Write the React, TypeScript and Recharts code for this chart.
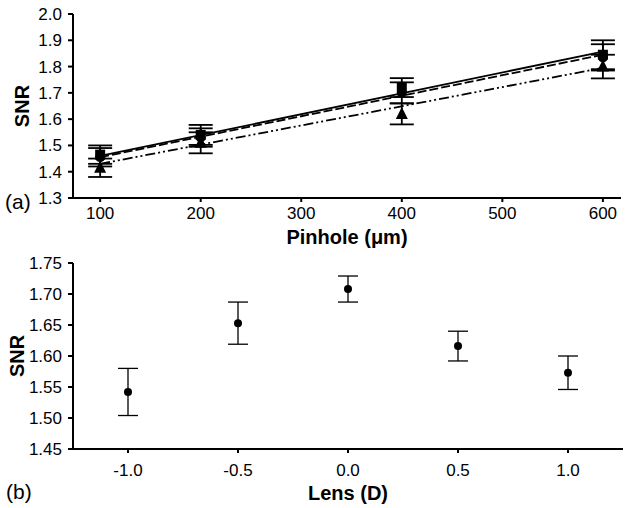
import {
  ComposedChart,
  Scatter,
  Line,
  XAxis,
  YAxis,
  ErrorBar,
} from 'recharts';

// Panel (a): SNR vs pinhole size, three series with linear fits
const pinholes = [100, 200, 400, 600];
const squareSnr = [1.465, 1.54, 1.72, 1.845];
const squareErr = [0.035, 0.038, 0.036, 0.055];
const circleSnr = [1.455, 1.53, 1.7, 1.835];
const circleErr = [0.035, 0.035, 0.04, 0.05];
const triangleSnr = [1.415, 1.51, 1.62, 1.8];
const triangleErr = [0.035, 0.04, 0.04, 0.045];

const fitX = [100, 600];
const fitSolid = [1.46, 1.857];
const fitDashed = [1.455, 1.845];
const fitDashDot = [1.43, 1.795];

const pinholeTicks = [100, 200, 300, 400, 500, 600];
const snrTicksA = [1.3, 1.4, 1.5, 1.6, 1.7, 1.8, 1.9, 2.0];

// Panel (b): SNR vs lens
const lensValues = [-1.0, -0.5, 0.0, 0.5, 1.0];
const lensSnr = [1.542, 1.653, 1.708, 1.616, 1.573];
const lensErr = [0.038, 0.034, 0.021, 0.024, 0.027];

const lensTicks = [-1.0, -0.5, 0.0, 0.5, 1.0];
const snrTicksB = [1.45, 1.5, 1.55, 1.6, 1.65, 1.7, 1.75];

const FONT = '"Liberation Sans", Arial, Helvetica, sans-serif';

const toPoints = (xs: number[], ys: number[], errs?: number[]) =>
  xs.map((x, i) => ({ x, y: ys[i], err: errs ? errs[i] : 0 }));

const squareData = toPoints(pinholes, squareSnr, squareErr);
const circleData = toPoints(pinholes, circleSnr, circleErr);
const triangleData = toPoints(pinholes, triangleSnr, triangleErr);
const solidFit = toPoints(fitX, fitSolid);
const dashedFit = toPoints(fitX, fitDashed);
const dashDotFit = toPoints(fitX, fitDashDot);
const lensData = toPoints(lensValues, lensSnr, lensErr);

const SquareMark = (p: any) => (
  <rect x={p.cx - 5} y={p.cy - 5} width={10} height={10} fill="#000" />
);
const CircleMark = (p: any) => <circle cx={p.cx} cy={p.cy} r={5} fill="#000" />;
const TriangleMark = (p: any) => (
  <path
    d={`M${p.cx},${p.cy - 7} L${p.cx + 6},${p.cy + 5} L${p.cx - 6},${p.cy + 5} Z`}
    fill="#000"
  />
);
const DotMark = (p: any) => <circle cx={p.cx} cy={p.cy} r={4} fill="#000" />;

const tickStyle = { fill: '#000', fontSize: 17, fontFamily: FONT };
const titleStyle = { fill: '#000', fontSize: 20, fontWeight: 'bold', fontFamily: FONT };

export default function App() {
  return (
    <div
      style={{
        position: 'absolute',
        left: 0,
        top: 0,
        width: 625,
        height: 508,
        background: '#fff',
        fontFamily: FONT,
      }}
    >
      <ComposedChart
        width={625}
        height={250}
        margin={{ top: 14, right: 4, left: 0, bottom: 0 }}
      >
        <XAxis
          type="number"
          dataKey="x"
          domain={[73, 618]}
          ticks={pinholeTicks}
          allowDataOverflow
          height={52}
          stroke="#000"
          strokeWidth={2}
          tickSize={4}
          tickMargin={5}
          tick={tickStyle}
          label={{
            value: 'Pinhole (\u03bcm)',
            position: 'insideBottom',
            offset: 6,
            style: titleStyle,
          }}
        />
        <XAxis
          xAxisId="top"
          orientation="top"
          type="number"
          domain={[73, 618]}
          height={0}
          tick={false}
          tickLine={false}
          stroke="#000"
          strokeWidth={2}
        />
        <YAxis
          type="number"
          dataKey="y"
          domain={[1.3, 2.0]}
          ticks={snrTicksA}
          allowDataOverflow
          width={73}
          stroke="#000"
          strokeWidth={2}
          tickSize={5}
          tickMargin={6}
          tick={tickStyle}
          tickFormatter={(v: number) => v.toFixed(1)}
          label={{
            value: 'SNR',
            angle: -90,
            position: 'insideLeft',
            offset: 22,
            style: { ...titleStyle, textAnchor: 'middle' },
          }}
        />
        <YAxis
          yAxisId="right"
          orientation="right"
          type="number"
          domain={[1.3, 2.0]}
          width={0}
          tick={false}
          tickLine={false}
          stroke="#000"
          strokeWidth={2}
        />
        <Line
          data={solidFit}
          dataKey="y"
          stroke="#000"
          strokeWidth={1.8}
          dot={false}
          isAnimationActive={false}
        />
        <Line
          data={dashedFit}
          dataKey="y"
          stroke="#000"
          strokeWidth={1.8}
          strokeDasharray="9 3"
          dot={false}
          isAnimationActive={false}
        />
        <Line
          data={dashDotFit}
          dataKey="y"
          stroke="#000"
          strokeWidth={1.8}
          strokeDasharray="10 3 2 3 2 3"
          dot={false}
          isAnimationActive={false}
        />
        <Scatter data={triangleData} shape={TriangleMark} isAnimationActive={false}>
          <ErrorBar dataKey="err" direction="y" width={12} stroke="#000" strokeWidth={1.8} />
        </Scatter>
        <Scatter data={circleData} shape={CircleMark} isAnimationActive={false}>
          <ErrorBar dataKey="err" direction="y" width={12} stroke="#000" strokeWidth={1.8} />
        </Scatter>
        <Scatter data={squareData} shape={SquareMark} isAnimationActive={false}>
          <ErrorBar dataKey="err" direction="y" width={12} stroke="#000" strokeWidth={1.8} />
        </Scatter>
      </ComposedChart>

      <ComposedChart
        width={625}
        height={258}
        margin={{ top: 13, right: 2, left: 0, bottom: 0 }}
      >
        <XAxis
          type="number"
          dataKey="x"
          domain={[-1.25, 1.25]}
          ticks={lensTicks}
          allowDataOverflow
          height={59}
          stroke="#000"
          strokeWidth={2}
          tickSize={4}
          tickMargin={11}
          tick={tickStyle}
          tickFormatter={(v: number) => v.toFixed(1)}
          label={{
            value: 'Lens (D)',
            position: 'insideBottom',
            offset: 8,
            style: titleStyle,
          }}
        />
        <XAxis
          xAxisId="top"
          orientation="top"
          type="number"
          domain={[-1.25, 1.25]}
          height={0}
          tick={false}
          tickLine={false}
          stroke="#000"
          strokeWidth={2}
        />
        <YAxis
          type="number"
          dataKey="y"
          domain={[1.45, 1.75]}
          ticks={snrTicksB}
          allowDataOverflow
          width={73}
          stroke="#000"
          strokeWidth={2}
          tickSize={5}
          tickMargin={6}
          tick={tickStyle}
          tickFormatter={(v: number) => v.toFixed(2)}
          label={{
            value: 'SNR',
            angle: -90,
            position: 'insideLeft',
            offset: 17,
            style: { ...titleStyle, textAnchor: 'middle' },
          }}
        />
        <YAxis
          yAxisId="right"
          orientation="right"
          type="number"
          domain={[1.45, 1.75]}
          width={0}
          tick={false}
          tickLine={false}
          stroke="#000"
          strokeWidth={2}
        />
        <Scatter data={lensData} shape={DotMark} isAnimationActive={false}>
          <ErrorBar dataKey="err" direction="y" width={10} stroke="#000" strokeWidth={1.3} />
        </Scatter>
      </ComposedChart>

      <div style={{ position: 'absolute', left: 5, top: 190, fontSize: 21, color: '#000' }}>
        (a)
      </div>
      <div style={{ position: 'absolute', left: 6, top: 480, fontSize: 21, color: '#000' }}>
        (b)
      </div>
    </div>
  );
}
